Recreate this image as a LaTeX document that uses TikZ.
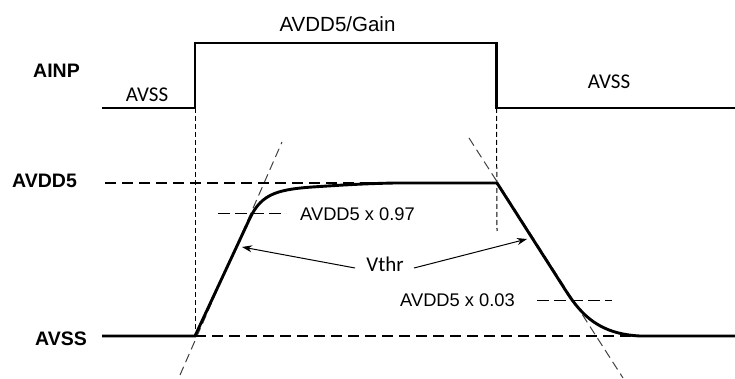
\documentclass[tikz,border=0pt]{standalone}
\usepackage{fontspec}
\setmainfont{Liberation Sans}
\newfontfamily\calibfont{Carlito}
\usetikzlibrary{arrows.meta}
\begin{document}
\begin{tikzpicture}[x=1pt,y=-1pt,
  sig/.style={line width=2.9pt, line join=miter},
  lvl/.style={line width=2.9pt, dash pattern=on 11pt off 6pt},
  guide/.style={line width=1pt, dash pattern=on 5pt off 3pt},
  tang/.style={line width=1pt, black!75, dash pattern=on 9pt off 5pt},
  pct/.style={line width=1pt, dash pattern=on 12pt off 5pt},
  boldlbl/.style={anchor=base west, inner sep=0pt, font=\bfseries\fontsize{19.5}{20}\selectfont},
  arlbl/.style={anchor=base west, inner sep=0pt, font=\fontsize{18.3}{20}\selectfont},
  callbl/.style={anchor=base, inner sep=0pt, font=\calibfont\fontsize{21}{22}\selectfont},
  vthrarrow/.style={line width=1pt, -{Stealth[length=10pt,width=7pt]}}
]
\useasboundingbox (0,0) rectangle (735,379);

% key coordinates
\coordinate (inL) at (102,108);
\coordinate (riseB) at (195,108);
\coordinate (riseT) at (195,43);
\coordinate (fallT) at (496.5,43);
\coordinate (fallB) at (496.5,108);
\coordinate (inR) at (735,108);

\coordinate (vddL) at (105,183);
\coordinate (vddR) at (497,183);
\coordinate (vssL) at (102,336);
\coordinate (start) at (195,336);
\coordinate (vssEnd) at (645,336);
\coordinate (vssR) at (735,336);

% labels
\node[boldlbl] (ainp) at (33,78) {AINP};
\node[boldlbl] (avdd) at (12,188) {AVDD5};
\node[boldlbl] (avss) at (35,345) {AVSS};
\node[anchor=base, inner sep=0pt, font=\fontsize{20.5}{22}\selectfont] (gain) at (337.5,32) {AVDD5/Gain};
\node[callbl] (avssL) at (147,102) {AVSS};
\node[callbl] (avssR) at (609,89) {AVSS};
\node[arlbl] (l97) at (300,220) {AVDD5 x 0.97};
\node[arlbl] (l03) at (400,306) {AVDD5 x 0.03};
\node[callbl] (vthr) at (385,271) {Vthr};

% guides
\draw[guide] (riseB) -- (start);
\draw[guide] (fallB) -- (497,231);
\draw[tang] (180,375) -- (282,142);
\draw[tang] (469,138) -- (623,378);
\draw[pct] (218,214) -- (286,214);
\draw[pct] (537,300) -- (612,300);

% level lines
\draw[lvl] (vddL) -- (vddR);
\draw[lvl] (start) -- (vssEnd);

% input signal
\draw[sig] (inL) -- (riseB) -- (riseT) -- (fallT) -- (fallB) -- (inR);

% output signal
\draw[sig] (vssL) -- (start) -- (250,218)
  .. controls (262,193) and (278,189) .. (320,186.5)
  .. controls (350,184.5) and (370,183.5) .. (395,183) -- (vddR)
  -- (566,291) .. controls (582,316) and (600,334) .. (640,336) -- (vssR);

% Vthr arrows
\coordinate (tipL) at (242,247);
\coordinate (tipR) at (527,239);
\draw[vthrarrow] (355,268) -- (tipL);
\draw[vthrarrow] (414,268) -- (tipR);
\end{tikzpicture}
\end{document}
